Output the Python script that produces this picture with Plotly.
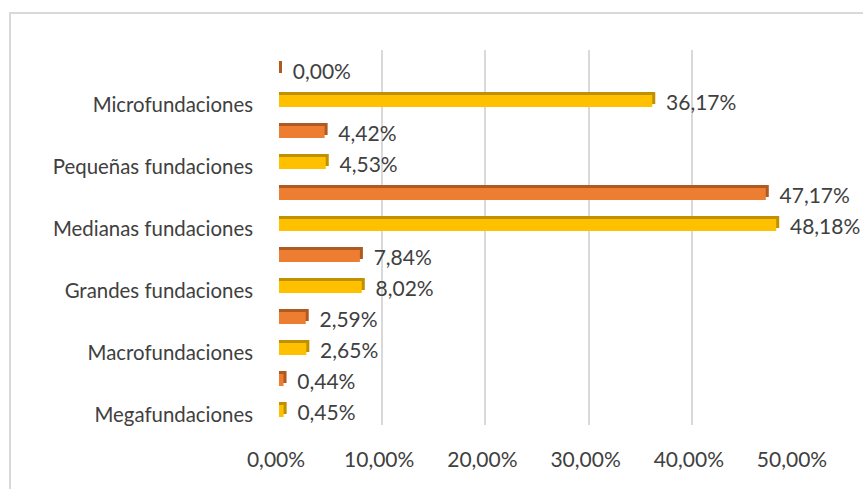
import plotly.graph_objects as go

categories = ["Megafundaciones", "Macrofundaciones", "Grandes fundaciones",
              "Medianas fundaciones", "Pequeñas fundaciones", "Microfundaciones"]
serie_amarilla = [0.45, 2.65, 8.02, 48.18, 4.53, 36.17]
serie_naranja = [0.44, 2.59, 7.84, 47.17, 4.42, 0.00]
tick_values = [0, 10, 20, 30, 40, 50]

YELLOW, YELLOW_DARK = "#FFC000", "#BF9000"
ORANGE, ORANGE_DARK = "#ED7D31", "#AE5A21"
TEXT = "#404040"
FONT = "Lato"
FS_NUM = 21
FS_CAT = 20.4

# layout geometry (pixels in the 863x489 page)
PLOT_L, PLOT_W = 279, 516
PLOT_T, PLOT_B = 50, 425
PLOT_H = PLOT_B - PLOT_T
PX_X = PLOT_W / 50.0     # px per percentage point
PX_Y = 62.0              # px per category
depth_x = 3 / PX_X
depth_y = 3 / PX_Y
thick = 12 / PX_Y

pos_y = list(range(len(categories)))
pos_o = [p + 0.5 for p in pos_y]


def fmt(v):
    return "  " + f"{v:.2f}".replace(".", ",") + "%"


fig = go.Figure()
for pos, vals, col, dark in [(pos_y, serie_amarilla, YELLOW, YELLOW_DARK),
                             (pos_o, serie_naranja, ORANGE, ORANGE_DARK)]:
    fig.add_trace(go.Bar(
        orientation="h", y=[p + depth_y for p in pos], x=[v + depth_x for v in vals],
        width=thick, marker=dict(color=dark, line=dict(width=0)),
        hoverinfo="skip", showlegend=False))
    fig.add_trace(go.Bar(
        orientation="h", y=pos, x=vals, width=thick,
        marker=dict(color=col, line=dict(width=0)),
        text=[fmt(v) for v in vals], textposition="outside", constraintext="none",
        textfont=dict(family=FONT, size=FS_NUM, color=TEXT), cliponaxis=False,
        hoverinfo="skip", showlegend=False))

fig.update_layout(
    width=863, height=489, barmode="overlay",
    margin=dict(l=PLOT_L, r=863 - PLOT_L - PLOT_W, t=PLOT_T, b=489 - PLOT_B),
    paper_bgcolor="white", plot_bgcolor="white",
    font=dict(family=FONT, size=FS_NUM, color=TEXT),
    xaxis=dict(range=[0, 50], tickvals=tick_values,
               ticktext=[f"{v:.2f}".replace(".", ",") + "%" for v in tick_values],
               showgrid=True, gridcolor="#D9D9D9", gridwidth=2, zeroline=False,
               showline=False, ticks="", ticklabelstandoff=20, ticklabelshift=-3,
               tickfont=dict(family=FONT, size=FS_NUM, color=TEXT)),
    yaxis=dict(range=[-14 / PX_Y, 361 / PX_Y], tickvals=[p - 0.07 for p in pos_y],
               ticktext=categories, showgrid=False, zeroline=False, showline=False,
               ticks="", ticklabelstandoff=25,
               tickfont=dict(family=FONT, size=FS_CAT, color=TEXT)),
    shapes=[dict(type="rect", xref="paper", yref="paper",
                 x0=(10 - PLOT_L) / PLOT_W, x1=1.3, y0=-0.4,
                 y1=(PLOT_B - 13) / PLOT_H,
                 line=dict(color="#D9D9D9", width=2), fillcolor="rgba(0,0,0,0)",
                 layer="below")],
)
fig.write_html("out.html", config={"displayModeBar": False},
               post_script="document.body.style.margin='0';document.body.style.overflow='hidden';")
